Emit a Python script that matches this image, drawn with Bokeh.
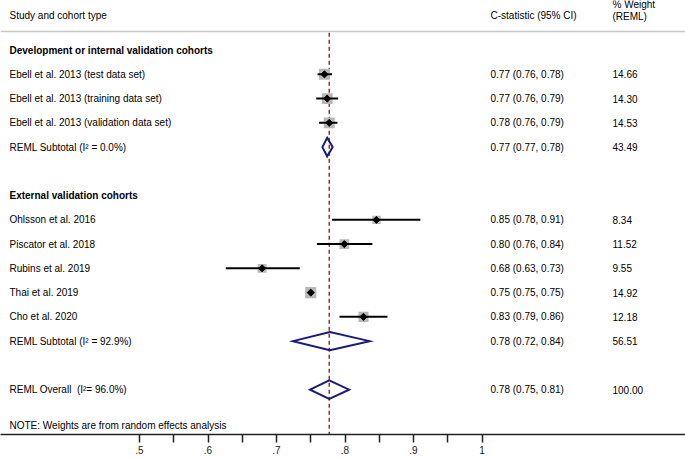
import math
from bokeh.plotting import figure
from bokeh.models import Range1d, FixedTicker, Span, ColumnDataSource
from bokeh.core.properties import value
from bokeh.embed import file_html
from bokeh.resources import INLINE

# ---------------- data ----------------
study_labels = [
    "Ebell et al. 2013 (test data set)",
    "Ebell et al. 2013 (training data set)",
    "Ebell et al. 2013 (validation data set)",
    "Ohlsson et al. 2016",
    "Piscator et al. 2018",
    "Rubins et al. 2019",
    "Thai et al. 2019",
    "Cho et al. 2020",
]
study_rows = [1, 2, 3, 7, 8, 9, 10, 11]
study_est = [0.770, 0.774, 0.777, 0.846, 0.799, 0.679, 0.750, 0.827]
study_lo = [0.760, 0.758, 0.762, 0.781, 0.759, 0.626, 0.748, 0.792]
study_hi = [0.781, 0.790, 0.789, 0.910, 0.840, 0.734, 0.752, 0.862]
study_weight = [14.66, 14.30, 14.53, 8.34, 11.52, 9.55, 14.92, 12.18]

pool_labels = ["REML Subtotal (I² = 0.0%)", "REML Subtotal (I² = 92.9%)", "REML Overall\u00a0 (I²= 96.0%)"]
pool_rows = [4, 12, 14]
pool_est = [0.774, 0.778, 0.777]
pool_lo = [0.767, 0.724, 0.749]
pool_hi = [0.782, 0.836, 0.806]
pool_weight = [43.49, 56.51, 100.00]

group_labels = ["Development or internal validation cohorts", "External validation cohorts"]
group_rows = [0, 6]

tick_values = [0.5, 0.6, 0.7, 0.8, 0.9, 1.0]
tick_labels = [".5", ".6", ".7", ".8", ".9", "1"]
minor_tick_values = [0.55, 0.65, 0.75, 0.85, 0.95]

header_study = "Study and cohort type"
header_ci = "C-statistic (95% CI)"
header_weight = ["% Weight", "(REML)"]
note_text = "NOTE: Weights are from random effects analysis"

# ---------------- layout helpers ----------------
PX_PER_UNIT = 685.0
W = 685
X_START = 0.5 - 139 / PX_PER_UNIT
X_END = X_START + W / PX_PER_UNIT


def px(xpix):
    return X_START + xpix / PX_PER_UNIT


FONT = value("Liberation Sans")
FS = "10px"

p = figure(width=W, height=456, x_range=Range1d(X_START, X_END),
           y_range=Range1d(15.85, -2.045), output_backend="svg",
           toolbar_location=None, min_border_left=0, min_border_right=0,
           min_border_top=0, min_border_bottom=0)
p.outline_line_color = None
p.xgrid.visible = False
p.ygrid.visible = False
p.yaxis.visible = False
p.background_fill_color = "white"
p.border_fill_color = "white"

ax = p.xaxis[0]
ax.ticker = FixedTicker(ticks=tick_values, minor_ticks=minor_tick_values)
ax.major_label_overrides = {v: l for v, l in zip(tick_values, tick_labels)}
ax.major_tick_in = 0
ax.major_tick_out = 8
ax.minor_tick_in = 0
ax.minor_tick_out = 8
ax.axis_line_width = 1.5
ax.major_tick_line_width = 1.5
ax.minor_tick_line_width = 1.5
ax.axis_line_color = "#222222"
ax.major_tick_line_color = "#222222"
ax.minor_tick_line_color = "#222222"
ax.major_label_text_font = "Liberation Sans"
ax.major_label_text_font_size = FS
ax.major_label_text_color = "#222222"
ax.major_label_standoff = 3

# header line
p.add_layout(Span(location=-0.77, dimension="width", line_color="#c8c8c8", line_width=1.5))

# reference dashed line at overall estimate
p.segment(x0=[pool_est[-1]], y0=[-0.72], x1=[pool_est[-1]], y1=[15.85],
          line_color="#90353b", line_width=1.5, line_dash="4 3")

# study boxes, CI lines, point markers
box_sizes = [2.87 * math.sqrt(w) for w in study_weight]
src = ColumnDataSource(dict(y=study_rows, est=study_est, lo=study_lo, hi=study_hi, size=box_sizes))
p.scatter(x="est", y="y", size="size", marker="square", source=src,
          fill_color="#b8b8b8", line_color=None)
p.segment(x0="lo", y0="y", x1="hi", y1="y", source=src, line_color="black", line_width=2)
p.scatter(x="est", y="y", size=5, marker="square", angle=math.pi / 4, source=src,
          fill_color="black", line_color="black")

# pooled diamonds
half_h = 0.38
xs = [[lo, e, hi, e] for lo, e, hi in zip(pool_lo, pool_est, pool_hi)]
ys = [[r, r - half_h, r, r + half_h] for r in pool_rows]
p.patches(xs=xs, ys=ys, fill_alpha=0, line_color="#1b1b7c", line_width=2, line_join="miter")

# text columns
def txt(x, y, t, bold=False):
    p.text(x=x, y=y, text=t, text_font=FONT, text_font_size=FS,
           text_baseline="middle", text_align="left", text_color="black",
           text_font_style="bold" if bold else "normal")

x_left = px(9)
x_ci = px(490)
x_w = px(612)

txt([x_left], [-1.43], [header_study])
txt([x_ci], [-1.43], [header_ci])
txt([x_w, x_w], [-1.9, -1.39], header_weight)
txt([x_left] * len(group_rows), group_rows, group_labels, bold=True)

txt([x_left] * len(study_rows), study_rows, study_labels)
txt([x_ci] * len(study_rows), study_rows,
    [f"{e:.2f} ({l:.2f}, {h:.2f})" for e, l, h in zip(study_est, study_lo, study_hi)])
txt([x_w] * len(study_rows), study_rows, [f"{w:.2f}" for w in study_weight])

txt([x_left] * len(pool_rows), pool_rows, pool_labels)
txt([x_ci] * len(pool_rows), pool_rows,
    [f"{e:.2f} ({l:.2f}, {h:.2f})" for e, l, h in zip(pool_est, pool_lo, pool_hi)])
txt([x_w] * len(pool_rows), pool_rows, [f"{w:.2f}" for w in pool_weight])

txt([x_left], [15.48], [note_text])

open("out.html", "w").write(file_html(p, INLINE))
